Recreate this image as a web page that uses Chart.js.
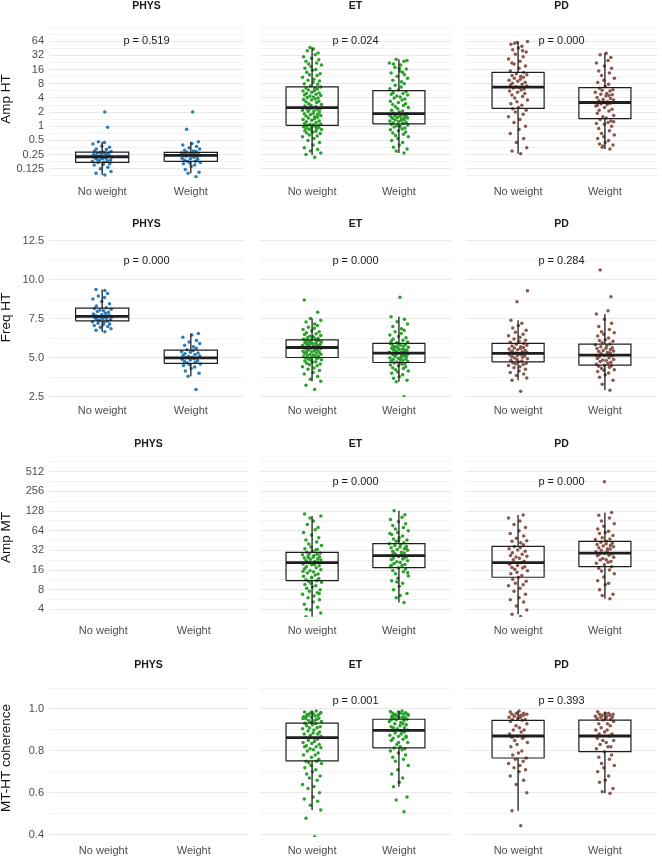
<!DOCTYPE html>
<html>
<head>
<meta charset="utf-8">
<script src="https://cdn.jsdelivr.net/npm/chart.js@4.4.0/dist/chart.umd.min.js"></script>
<style>
  body { margin: 0; background: #fff; width: 662px; height: 857px; position: relative; overflow: hidden; }
  canvas { position: absolute; }
</style>
</head>
<body>
<script>
// categories / facets
const groupLabels = ['No weight', 'Weight'];
const panelLabels = ['PHYS', 'ET', 'PD'];
const panelColors = ['#2b7bba', '#2ca02c', '#8c564b'];
const rowTitles = ['Amp HT', 'Freq HT', 'Amp MT', 'MT-HT coherence'];

// labelled y ticks per row
const ampHTTicks = [0.125, 0.25, 0.5, 1, 2, 4, 8, 16, 32, 64];
const freqHTTicks = [2.5, 5, 7.5, 10, 12.5];
const ampMTTicks = [4, 8, 16, 32, 64, 128, 256, 512];
const cohTicks = [0.4, 0.6, 0.8, 1.0];

// p-value annotations (PHYS, ET, PD)
const pAmpHT = ['p = 0.519', 'p = 0.024', 'p = 0.000'];
const pFreqHT = ['p = 0.000', 'p = 0.000', 'p = 0.284'];
const pAmpMT = [null, 'p = 0.000', 'p = 0.000'];
const pCoh = [null, 'p = 0.001', 'p = 0.393'];

// box stats: [lower whisker, q1, median, q3, upper whisker] for [No weight, Weight]
const ampHT_physBox = [[0.092, 0.171, 0.225, 0.283, 0.47], [0.1, 0.18, 0.242, 0.28, 0.47]];
const ampHT_etBox = [[0.245, 1.05, 2.5, 6.9, 47], [0.27, 1.12, 1.85, 5.7, 26.5]];
const ampHT_pdBox = [[0.26, 2.4, 6.8, 14, 63], [0.33, 1.45, 3.2, 6.6, 35.5]];
const freqHT_physBox = [[6.66, 7.36, 7.64, 8.17, 9.37], [3.81, 4.63, 4.99, 5.48, 6.55]];
const freqHT_etBox = [[3.49, 5.01, 5.65, 6.14, 7.51], [3.45, 4.69, 5.29, 5.91, 7.62]];
const freqHT_pdBox = [[3.56, 4.73, 5.27, 5.91, 7.4], [2.92, 4.52, 5.16, 5.87, 7.79]];
const ampMT_etBox = [[3.07, 11, 20.7, 29.9, 108], [5.1, 17.4, 26.5, 40.5, 130]];
const ampMT_pdBox = [[3.37, 12.4, 20.7, 36.8, 111], [5.8, 18, 29, 44, 122]];
const coh_etBox = [[0.518, 0.752, 0.863, 0.932, 0.99], [0.629, 0.814, 0.898, 0.951, 0.99]];
const coh_pdBox = [[0.514, 0.766, 0.871, 0.946, 0.99], [0.598, 0.796, 0.871, 0.947, 0.987]];

// Amp HT points
const ampHT_physNW = [0.092,0.1,0.11,0.125,0.135,0.15,0.155,0.16,0.17,0.172,0.18,0.185,0.19,0.19,0.2,0.205,0.21,0.215,0.22,0.22,0.23,0.235,0.24,0.245,0.25,0.25,0.26,0.265,0.27,0.28,0.28,0.29,0.3,0.32,0.33,0.36,0.38,0.42,0.45,0.47,0.95,2.0];
const ampHT_physW = [0.085,0.1,0.105,0.12,0.14,0.15,0.16,0.165,0.17,0.18,0.18,0.19,0.2,0.205,0.21,0.22,0.225,0.23,0.235,0.24,0.24,0.245,0.25,0.255,0.26,0.265,0.27,0.27,0.28,0.29,0.3,0.31,0.33,0.35,0.37,0.4,0.43,0.47,0.86,2.0];
const ampHT_etNW = [0.22,0.25,0.27,0.3,0.32,0.35,0.4,0.45,0.5,0.55,0.6,0.62,0.65,0.7,0.72,0.75,0.78,0.8,0.83,0.85,0.88,0.9,0.92,0.95,0.97,0.98,1.0,1.02,1.04,
  1.08,1.1,1.12,1.15,1.2,1.25,1.3,1.35,1.4,1.45,1.5,1.55,1.6,1.65,1.7,1.75,1.8,1.85,1.9,2.0,2.05,2.1,2.2,2.25,2.3,2.35,2.4,2.45,
  2.6,2.7,2.8,2.9,3.0,3.2,3.3,3.4,3.6,3.7,3.8,4.0,4.1,4.2,4.4,4.5,4.6,4.8,5.0,5.1,5.3,5.6,5.7,5.9,6.2,6.4,6.5,6.8,
  7.2,7.8,8.0,8.5,9.2,9.5,10,11,12,12.5,13,14,15.5,16,17,18.5,20,21,22,24,26,28,30,33,36,40,44,47];
const ampHT_etW = [0.27,0.3,0.33,0.36,0.4,0.45,0.5,0.55,0.6,0.64,0.68,0.72,0.76,0.8,0.84,0.88,0.92,0.96,1.0,1.03,1.06,1.1,
  1.14,1.18,1.22,1.26,1.3,1.33,1.36,1.4,1.43,1.46,1.5,1.53,1.56,1.6,1.63,1.66,1.7,1.72,1.75,1.78,1.8,1.84,
  1.9,2.0,2.1,2.2,2.35,2.5,2.6,2.75,2.9,3.0,3.2,3.4,3.6,3.8,4.0,4.2,4.4,4.6,4.8,5.0,5.2,5.5,
  5.9,6.3,6.8,7.4,8.0,8.8,9.5,10.5,11.5,12.5,13.5,15,16.5,18,20,22,24,26.5,25,21,17,14];
const ampHT_pdNW = [0.26,0.3,0.35,0.45,0.55,0.7,0.85,1.0,1.2,1.4,1.6,1.8,2.0,2.2,2.35,
  2.5,2.8,3.0,3.3,3.6,4.0,4.3,4.6,5.0,5.3,5.6,5.9,6.2,6.5,6.7,
  6.9,7.2,7.5,7.8,8.2,8.6,9.0,9.5,10,10.5,11,11.5,12,12.5,13,13.8,
  15,17,19,21,24,27,30,34,38,42,46,50,55,60,63,58,40,22];
const ampHT_pdW = [0.33,0.36,0.4,0.42,0.45,0.5,0.55,0.6,0.65,0.7,0.8,0.9,1.0,1.1,1.15,1.2,1.3,1.4,
  1.5,1.6,1.7,1.9,2.1,2.2,2.3,2.5,2.7,2.9,3.0,3.1,
  3.3,3.5,3.6,3.7,3.9,4.1,4.4,4.7,4.8,5.0,5.3,5.6,5.8,6.0,6.4,
  7.0,7.8,8.5,9.5,10.5,12,13.5,15,17,19,22,25,29,33,35.5,0.38,1.25,2.8,4.5];

// Freq HT points
const freqHT_physNW = [6.65,6.75,6.85,6.95,7.0,7.05,7.1,7.15,7.2,7.25,7.3,7.35,7.38,7.42,7.45,7.5,7.52,7.55,7.58,7.6,7.62,7.65,7.68,7.7,7.75,7.8,7.85,7.9,7.95,8.0,8.05,8.1,8.15,8.2,8.3,8.45,8.6,8.75,8.85,8.95,9.1,9.3,9.37];
const freqHT_physW = [2.96,3.81,4.0,4.15,4.3,4.4,4.5,4.55,4.6,4.65,4.7,4.75,4.8,4.85,4.9,4.93,4.97,5.0,5.03,5.07,5.1,5.15,5.2,5.25,5.3,5.35,5.4,5.45,5.5,5.6,5.7,5.8,5.9,6.0,6.1,6.3,6.45,6.55];
const freqHT_etNW = [2.96,3.24,3.49,3.62,3.8,3.95,4.05,4.18,4.25,4.33,4.42,4.48,4.55,4.6,4.64,4.7,4.74,4.78,4.83,4.87,4.9,4.94,4.97,5.0,
  5.02,5.05,5.08,5.1,5.13,5.17,5.2,5.22,5.26,5.3,5.33,5.36,5.38,5.41,5.44,5.47,5.5,5.52,5.55,5.58,5.6,5.63,
  5.66,5.68,5.7,5.73,5.75,5.77,5.8,5.82,5.85,5.87,5.9,5.92,5.95,5.97,6.0,6.02,6.05,6.08,6.1,6.13,
  6.17,6.2,6.24,6.28,6.33,6.37,6.42,6.48,6.53,6.6,6.66,6.72,6.8,6.88,6.95,7.05,7.15,7.28,7.4,7.51,7.9,8.69];
const freqHT_etW = [2.49,3.45,3.55,3.68,3.8,3.9,4.0,4.08,4.15,4.22,4.3,4.36,4.42,4.48,4.53,4.58,4.62,4.66,4.69,
  4.72,4.76,4.8,4.84,4.88,4.92,4.96,5.0,5.03,5.07,5.1,5.14,5.18,5.21,5.25,5.28,4.74,4.9,5.05,5.2,
  5.31,5.34,5.38,5.42,5.45,5.49,5.52,5.56,5.6,5.63,5.67,5.7,5.74,5.78,5.82,5.86,5.9,5.35,5.5,5.65,5.8,
  5.95,6.0,6.06,6.12,6.2,6.28,6.35,6.45,6.55,6.65,6.75,6.85,7.0,7.15,7.3,7.45,7.62,8.86];
const freqHT_pdNW = [2.85,3.56,3.7,3.85,3.95,4.05,4.15,4.25,4.35,4.42,4.5,4.56,4.6,4.62,4.68,4.73,
  4.78,4.83,4.88,4.93,4.98,5.02,5.06,5.1,5.14,5.18,5.2,5.22,5.25,5.27,
  5.3,5.33,5.34,5.38,5.42,5.46,5.5,5.55,5.6,5.62,5.65,5.7,5.75,5.8,5.85,5.91,
  5.98,6.05,6.12,6.2,6.3,6.4,6.5,6.62,6.75,6.9,7.05,7.2,7.4,8.58,9.28];
const freqHT_pdW = [2.92,3.3,3.55,3.75,3.9,4.02,4.12,4.2,4.22,4.3,4.38,4.45,4.48,4.52,
  4.58,4.64,4.7,4.76,4.82,4.85,4.88,4.94,5.0,5.05,5.1,5.13,5.16,
  5.2,5.25,5.3,5.35,5.4,5.43,5.46,5.52,5.58,5.6,5.64,5.7,5.76,5.82,5.87,
  5.95,6.05,6.1,6.15,6.25,6.38,6.5,6.6,6.65,6.8,7.0,7.2,7.45,7.79,8.0,8.9,10.61];

// Amp MT points
const ampMT_etNW = [2.9,3.07,3.5,3.9,4.3,4.8,5.2,5.6,6.0,6.4,6.8,7.2,7.6,8.0,8.4,8.8,9.2,9.6,10,10.4,10.8,11,
  11.4,11.9,12.4,12.9,13.4,13.9,14.4,15,15.6,16.2,16.8,17.4,18,18.6,19.2,19.8,20.3,20.7,
  21.2,21.7,22.2,22.7,23.2,23.8,24.4,25,25.6,26.2,26.8,27.4,28,28.6,29.2,29.9,
  31,32.5,34,36,38,40,43,46,50,55,60,66,72,80,90,100,108,115,2.8,4.0,7.0,12.2,15.3,19.5,24.8,33];
const ampMT_etW = [5.1,6.0,7.0,8.0,9.0,10,11,12,13,14,15,15.8,16.6,17.4,
  18,18.7,19.4,20.1,20.8,21.5,22.2,22.9,23.6,24.3,25,25.7,26.5,
  27.3,28.2,29.1,30,31,32,33,34,35,36,37,38,39.2,40.5,
  42,44,46,48,50,53,56,60,64,68,72,77,82,88,95,103,112,130,6.5,10.5,14.5,19,24,29.5,34.5,45,58];
const ampMT_pdNW = [3.1,3.37,3.9,4.5,5.2,5.6,6.0,6.8,7.6,8.4,9.2,9.5,10,10.8,11.6,12.4,
  13.2,14,14.8,15.6,16.4,17.2,17.5,18,18.8,19.6,20.7,
  21.8,23,24.2,25.4,26,26.6,28,29.5,31,32.5,34,35.5,36.8,
  39,42,44,45,49,53,58,64,72,80,90,100,111];
const ampMT_pdW = [5.8,6.5,6.8,8,9.5,10,11,12.5,14,15.5,16,17,18,
  19.2,20.4,21,21.6,22.8,23,24,25.2,26.4,27,27.6,28.5,29,
  30.5,31.5,32,33.5,34,35,36.5,37.5,38,39.5,40,41,42.5,44,
  47,48,50,54,58,60,63,68,75,82,90,100,110,122,360];

// MT-HT coherence points
const coh_etNW = [0.39,0.478,0.518,0.54,0.56,0.57,0.58,0.6,0.62,0.63,0.64,0.66,0.67,0.68,0.69,0.7,0.71,0.72,0.73,0.74,0.745,0.75,
  0.75,0.76,0.77,0.78,0.78,0.79,0.8,0.805,0.81,0.815,0.82,0.82,0.825,0.83,0.835,0.84,0.845,0.85,0.855,0.86,0.863,
  0.87,0.875,0.88,0.88,0.885,0.89,0.895,0.9,0.905,0.91,0.91,0.915,0.92,0.925,0.93,0.932,
  0.935,0.94,0.945,0.95,0.953,0.956,0.96,0.963,0.966,0.97,0.973,0.976,0.98,0.983,0.986,0.99,0.965,0.975,0.985,0.955,0.945,0.97];
const coh_etW = [0.51,0.566,0.58,0.629,0.65,0.67,0.69,0.71,0.73,0.75,0.76,0.77,0.78,0.79,0.8,0.805,0.81,0.814,
  0.82,0.83,0.84,0.85,0.855,0.86,0.865,0.87,0.875,0.88,0.885,0.89,0.895,0.898,
  0.9,0.905,0.91,0.915,0.92,0.925,0.93,0.935,0.94,0.945,0.948,0.951,
  0.955,0.958,0.961,0.964,0.967,0.97,0.973,0.976,0.979,0.982,0.985,0.988,0.99,0.96,0.97,0.98,0.965,0.975,0.95,0.93,0.91,0.87,0.84];
const coh_pdNW = [0.443,0.514,0.6,0.64,0.66,0.68,0.7,0.71,0.72,0.73,0.74,0.75,0.76,0.766,
  0.78,0.79,0.8,0.82,0.83,0.84,0.85,0.86,0.865,0.87,0.871,
  0.88,0.89,0.9,0.9,0.91,0.92,0.93,0.94,0.946,
  0.95,0.95,0.955,0.96,0.96,0.965,0.97,0.97,0.975,0.975,0.98,0.98,0.985,0.99];
const coh_pdW = [0.598,0.605,0.62,0.65,0.66,0.68,0.7,0.72,0.73,0.74,0.76,0.77,0.78,0.796,
  0.81,0.82,0.82,0.83,0.84,0.85,0.85,0.86,0.871,
  0.88,0.88,0.89,0.9,0.9,0.91,0.92,0.93,0.93,0.94,0.947,
  0.95,0.955,0.955,0.96,0.96,0.965,0.965,0.97,0.97,0.975,0.975,0.98,0.98,0.987];

// horizontal jitter offsets (category units), cycled over points
const jitterOffsets = [0.03,-0.07,0.1,-0.02,0.064,-0.09,0.012,0.085,-0.047,0.021,-0.11,0.058,-0.031,0.093,-0.062,0.004,0.043,-0.083,-0.013,0.108,
  -0.039,0.052,-0.071,0.077,-0.006,-0.098,0.036,0.069,-0.055,0.015,-0.024,0.101,-0.087,0.047,-0.066,0.082,-0.004,-0.104,0.026,-0.043,0.061];

// layout (pixels)
const plotTop = [20, 238, 458, 679];
const plotBottom = [178, 397, 617, 837];
const colLeft = [49, 256, 462];
const plotW = 199;
const yAxisW = 49;
const headH = 22, footH = 22;

const rows = [
  { log: true, min: Math.pow(2, -3.65), max: Math.pow(2, 7.5), ticks: ampHTTicks, p: pAmpHT, pY: 64,
    points: [[ampHT_physNW, ampHT_physW], [ampHT_etNW, ampHT_etW], [ampHT_pdNW, ampHT_pdW]],
    boxes: [ampHT_physBox, ampHT_etBox, ampHT_pdBox] },
  { log: false, min: 2.48, max: 12.66, ticks: freqHTTicks, p: pFreqHT, pY: 11.2, dec: 1,
    points: [[freqHT_physNW, freqHT_physW], [freqHT_etNW, freqHT_etW], [freqHT_pdNW, freqHT_pdW]],
    boxes: [freqHT_physBox, freqHT_etBox, freqHT_pdBox] },
  { log: true, min: Math.pow(2, 1.61), max: Math.pow(2, 9.7), ticks: ampMTTicks, p: pAmpMT, pY: 362,
    points: [null, [ampMT_etNW, ampMT_etW], [ampMT_pdNW, ampMT_pdW]],
    boxes: [null, ampMT_etBox, ampMT_pdBox] },
  { log: false, min: 0.389, max: 1.143, ticks: cohTicks, p: pCoh, pY: 1.04, dec: 1,
    points: [null, [coh_etNW, coh_etW], [coh_pdNW, coh_pdW]],
    boxes: [null, coh_etBox, coh_pdBox] }
];

Chart.defaults.font.family = '"Liberation Sans", Arial, Helvetica, sans-serif';

function gridValues(row) {
  const t = row.ticks;
  const out = [];
  if (row.log) {
    const r = Math.sqrt(t[1] / t[0]);
    t.forEach(v => out.push(v / r, v, v * r, v * r * r));
  } else {
    const h = (t[1] - t[0]) / 2;
    t.forEach(v => out.push(v - h, v, v + h, v + 2 * h));
  }
  const uniq = [];
  out.sort((a, b) => a - b).forEach(v => {
    if (v > row.min && v < row.max * 0.999 && !uniq.some(u => Math.abs(u - v) / v < 1e-6)) uniq.push(v);
  });
  return uniq;
}

function isLabelled(row, v) {
  return row.ticks.some(t => Math.abs(t - v) / t < 1e-6);
}

const facetText = {
  id: 'facetText',
  afterDatasetsDraw(chart, args, opts) {
    const { ctx, chartArea, scales } = chart;
    ctx.save();
    ctx.fillStyle = '#1a1a1a';
    ctx.textAlign = 'center';
    ctx.textBaseline = 'middle';
    ctx.font = 'bold 10.5px "Liberation Sans", Arial, sans-serif';
    ctx.fillText(opts.strip, (chartArea.left + chartArea.right) / 2, chartArea.top - 14.2);
    if (opts.p) {
      ctx.font = '11px "Liberation Sans", Arial, sans-serif';
      ctx.fillText(opts.p, scales.x.getPixelForValue(1.5), scales.y.getPixelForValue(opts.pY));
    }
    ctx.restore();
  }
};

function lineSet(data, width) {
  return { data, showLine: true, borderColor: '#1e1e1e', borderWidth: width, pointRadius: 0,
           borderJoinStyle: 'miter', borderCapStyle: 'butt', tension: 0 };
}

function buildDatasets(points, boxes, color) {
  const sets = [];
  if (!boxes) return sets;
  const hw = 0.3;
  boxes.forEach((b, g) => {
    const xc = g + 1;
    sets.push(lineSet([{ x: xc - hw, y: b[2] }, { x: xc + hw, y: b[2] }], 2.8));
    sets.push(lineSet([{ x: xc - hw, y: b[1] }, { x: xc + hw, y: b[1] }, { x: xc + hw, y: b[3] },
                       { x: xc - hw, y: b[3] }, { x: xc - hw, y: b[1] }], 1.2));
    sets.push(lineSet([{ x: xc, y: b[3] }, { x: xc, y: b[4] }], 1.3));
    sets.push(lineSet([{ x: xc, y: b[1] }, { x: xc, y: b[0] }], 1.3));
  });
  points.forEach((vals, g) => {
    sets.push({
      data: vals.map((v, i) => ({ x: g + 1 + jitterOffsets[(i + g * 11) % jitterOffsets.length], y: v })),
      pointRadius: 1.75, pointBackgroundColor: color, pointBorderWidth: 0, showLine: false
    });
  });
  return sets;
}

rows.forEach((row, r) => {
  const grid = gridValues(row);
  panelLabels.forEach((pname, c) => {
    const left = c === 0 ? 0 : colLeft[c];
    const w = c === 0 ? yAxisW + plotW : plotW;
    const top = plotTop[r] - headH;
    const h = plotBottom[r] - plotTop[r] + headH + footH;
    const cv = document.createElement('canvas');
    cv.width = w; cv.height = h;
    cv.style.left = left + 'px'; cv.style.top = top + 'px';
    document.body.appendChild(cv);

    new Chart(cv, {
      type: 'scatter',
      data: { datasets: buildDatasets(row.points[c], row.boxes[c], panelColors[c]) },
      options: {
        responsive: false,
        animation: false,
        devicePixelRatio: 1,
        layout: { padding: { top: headH, left: 0, right: 0, bottom: 0 } },
        plugins: {
          legend: { display: false },
          tooltip: { enabled: false },
          facetText: { strip: pname, p: row.p[c], pY: row.pY }
        },
        scales: {
          x: {
            type: 'linear', min: 0.4, max: 2.6,
            grid: { display: false, drawTicks: false },
            border: { display: false },
            afterBuildTicks: s => { s.ticks = [{ value: 1 }, { value: 2 }]; },
            afterFit: s => { s.height = footH; },
            ticks: {
              autoSkip: false, padding: 7, color: '#4d4d4d', font: { size: 11 },
              maxRotation: 0,
              callback: v => groupLabels[Math.round(v) - 1]
            }
          },
          y: {
            type: row.log ? 'logarithmic' : 'linear',
            min: row.min, max: row.max,
            border: { display: false },
            grid: {
              drawTicks: false,
              color: ctx => isLabelled(row, ctx.tick.value) ? '#e9e9e9' : '#f2f2f2',
              lineWidth: 1
            },
            afterBuildTicks: s => { s.ticks = grid.map(v => ({ value: v })); },
            afterFit: s => { s.width = c === 0 ? yAxisW : 0; },
            title: {
              display: c === 0, text: rowTitles[r], color: '#111',
              font: { size: 13.5, lineHeight: 1 }, padding: { top: 0, bottom: 0 }
            },
            ticks: {
              display: c === 0, autoSkip: false, padding: 5, color: '#4d4d4d', font: { size: 11 },
              callback: v => isLabelled(row, v) ? (row.dec ? Number(v).toFixed(row.dec) : String(+Number(v).toPrecision(6))) : ''
            }
          }
        }
      },
      plugins: [facetText]
    });
  });
});
</script>
</body>
</html>
